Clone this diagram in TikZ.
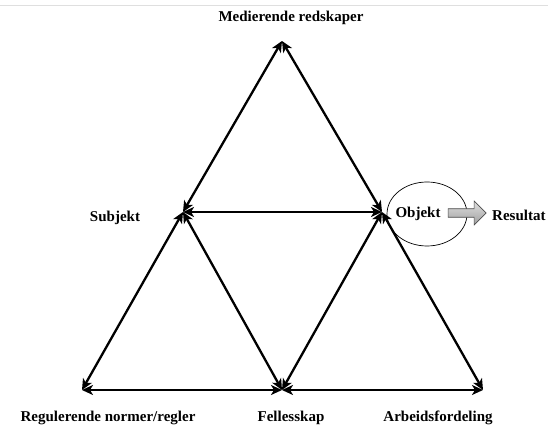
\documentclass[tikz,border=0pt]{standalone}
\usepackage{fontspec}
\setmainfont{Liberation Serif}
\usetikzlibrary{arrows.meta,shapes.geometric,shapes.arrows}
\begin{document}
\begin{tikzpicture}[x=1pt,y=-1pt,
  link/.style={line width=2.3pt,{Stealth[length=11pt,width=10pt,inset=3pt]}-{Stealth[length=11pt,width=10pt,inset=3pt]}},
  lab/.style={font=\bfseries\fontsize{15}{17}\selectfont,inner sep=0pt}]
\useasboundingbox[fill=white] (0,0) rectangle (548,427);
\draw[gray!25,line width=0.6pt] (0,5) -- (548,5);
\coordinate (T) at (282,41);
\coordinate (S) at (183,212);
\coordinate (O) at (382,212);
\coordinate (BL) at (82,390);
\coordinate (BM) at (282,390);
\coordinate (BR) at (483,390);
\draw[link] (S) -- (T);
\draw[link] (O) -- (T);
\draw[link] (S) -- (O);
\draw[link] (S) -- (BL);
\draw[link] (S) -- (BM);
\draw[link] (O) -- (BM);
\draw[link] (O) -- (BR);
\draw[link] (BL) -- (BM);
\draw[link] (BM) -- (BR);
\node[lab] (med) at (291,18) {Medierende redskaper};
\node[lab] (subj) at (115,218) {Subjekt};
\node[lab] (obj) at (418,214) {Objekt};
\node[lab,anchor=west] (res) at (492,215) {Resultat};
\node[draw,ellipse,line width=0.7pt,minimum width=80pt,minimum height=64pt] (ell) at (427,214) {};
\node[single arrow,draw=black!70,line width=0.6pt,top color=gray!25,bottom color=gray!75,
  minimum height=38pt,minimum width=24pt,single arrow head extend=6pt,inner sep=3pt] (arr) at (465,213) {};
\node[lab] (reg) at (108,418) {Regulerende normer/regler};
\node[lab] (fel) at (291,418) {Fellesskap};
\node[lab] (arb) at (438,418) {Arbeidsfordeling};
\end{tikzpicture}
\end{document}
